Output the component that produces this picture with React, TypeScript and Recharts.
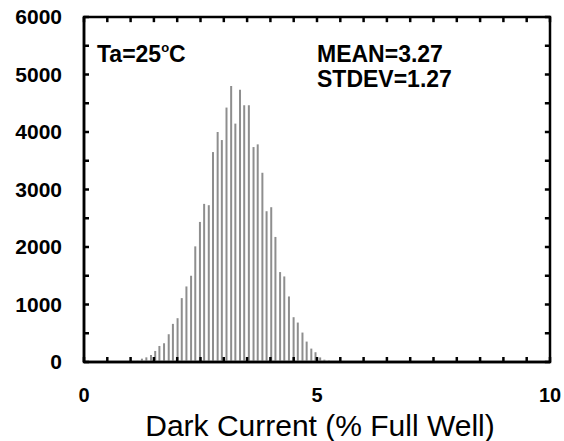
import React from 'react';
import { ComposedChart, Bar, XAxis, YAxis, ReferenceArea, ReferenceLine, Customized } from 'recharts';

const FONT = '"Liberation Sans", Arial, Helvetica, sans-serif';

// Histogram bin centres (% full well) and counts
const binCenters = [
  1.15, 1.245, 1.34, 1.44, 1.53, 1.62, 1.72, 1.82, 1.91, 2.01,
  2.1, 2.2, 2.3, 2.39, 2.49, 2.58, 2.68, 2.77, 2.87, 2.96,
  3.06, 3.16, 3.25, 3.35, 3.44, 3.54, 3.64, 3.73, 3.83, 3.92,
  4.02, 4.11, 4.21, 4.3, 4.4, 4.5, 4.59, 4.69, 4.78, 4.88,
  4.97, 5.07, 5.16, 5.26, 5.35, 5.45,
];
const counts = [
  20, 58, 81, 122, 192, 279, 326, 483, 663, 762,
  1111, 1314, 1500, 2011, 2436, 2750, 2727, 3651, 4000, 3860,
  4425, 4802, 4146, 4733, 4465, 4465, 3738, 3785, 3291, 2622,
  2692, 2175, 1564, 1488, 1140, 779, 686, 512, 355, 233,
  170, 80, 40, 25, 15, 8,
];

const xTicks = [0, 0.5, 1, 1.5, 2, 2.5, 3, 3.5, 4, 4.5, 5, 5.5, 6, 6.5, 7, 7.5, 8, 8.5, 9, 9.5, 10];
const xLabelTicks = [0, 5, 10];
const yTicks = [0, 500, 1000, 1500, 2000, 2500, 3000, 3500, 4000, 4500, 5000, 5500, 6000];
const yLabelTicks = [0, 1000, 2000, 3000, 4000, 5000, 6000];
const X_MAX = 10;
const Y_MAX = 6000;
// inward tick length expressed in data units (~5 px)
const TICK_LEN_Y = 90;
const TICK_LEN_X = 0.11;

const xTitle = 'Dark Current (% Full Well)';
const tempText = 'Ta=25';
const meanText = 'MEAN=3.27';
const stdevText = 'STDEV=1.27';

const data = binCenters.map((x, i) => ({ x, count: counts[i] }));

const Annotations = () => (
  <g fontFamily={FONT} fontWeight={700} fill="#000">
    <text x={97} y={62} fontSize={23}>
      {tempText}
      <tspan fontSize={13} dy={-10}>o</tspan>
      <tspan fontSize={23} dy={10}>C</tspan>
    </text>
    <text x={317} y={62} fontSize={23}>{meanText}</text>
    <text x={317} y={87} fontSize={23}>{stdevText}</text>
  </g>
);

export default function App() {
  return (
    <div style={{ position: 'absolute', left: 0, top: 0, width: 564, height: 441, background: '#fff' }}>
      <ComposedChart
        width={564}
        height={441}
        data={data}
        margin={{ top: 17, right: 14, bottom: 0, left: 0 }}
      >
        <XAxis
          xAxisId="main"
          dataKey="x"
          type="number"
          domain={[0, X_MAX]}
          allowDataOverflow
          ticks={xTicks}
          interval={0}
          tickFormatter={(v: number) => (xLabelTicks.includes(v) ? String(v) : '')}
          tickSize={-5}
          tickMargin={31}
          stroke="#000"
          strokeWidth={2.5}
          tick={{ fill: '#000', fontSize: 20, fontWeight: 700, fontFamily: FONT, stroke: 'none' }}
          height={79}
          label={{ value: xTitle, position: 'insideBottom', offset: 5, dx: 3, fill: '#000', fontSize: 30, fontFamily: FONT }}
        />
        <YAxis
          yAxisId="main"
          type="number"
          domain={[0, Y_MAX]}
          allowDataOverflow
          ticks={yTicks}
          interval={0}
          tickFormatter={(v: number) => (yLabelTicks.includes(v) ? String(v) : '')}
          tickSize={-5}
          tickMargin={27}
          stroke="#000"
          strokeWidth={2.5}
          tick={{ fill: '#000', fontSize: 21, fontWeight: 700, fontFamily: FONT, stroke: 'none' }}
          width={84}
        />
        <ReferenceArea
          xAxisId="main"
          yAxisId="main"
          x1={0}
          x2={X_MAX}
          y1={0}
          y2={Y_MAX}
          fill="none"
          fillOpacity={0}
          stroke="#000"
          strokeWidth={2.5}
          strokeOpacity={1}
          ifOverflow="visible"
        />
        {xTicks.map((t) => (
          <ReferenceLine
            key={`tt${t}`}
            xAxisId="main"
            yAxisId="main"
            segment={[{ x: t, y: Y_MAX }, { x: t, y: Y_MAX - TICK_LEN_Y }]}
            stroke="#000"
            strokeWidth={2.5}
            ifOverflow="visible"
          />
        ))}
        {yTicks.map((t) => (
          <ReferenceLine
            key={`rt${t}`}
            xAxisId="main"
            yAxisId="main"
            segment={[{ x: X_MAX, y: t }, { x: X_MAX - TICK_LEN_X, y: t }]}
            stroke="#000"
            strokeWidth={2.5}
            ifOverflow="visible"
          />
        ))}
        <Bar
          xAxisId="main"
          yAxisId="main"
          dataKey="count"
          barSize={2}
          fill="#8e8e8e"
          isAnimationActive={false}
        />
        <Customized component={Annotations} />
      </ComposedChart>
    </div>
  );
}
